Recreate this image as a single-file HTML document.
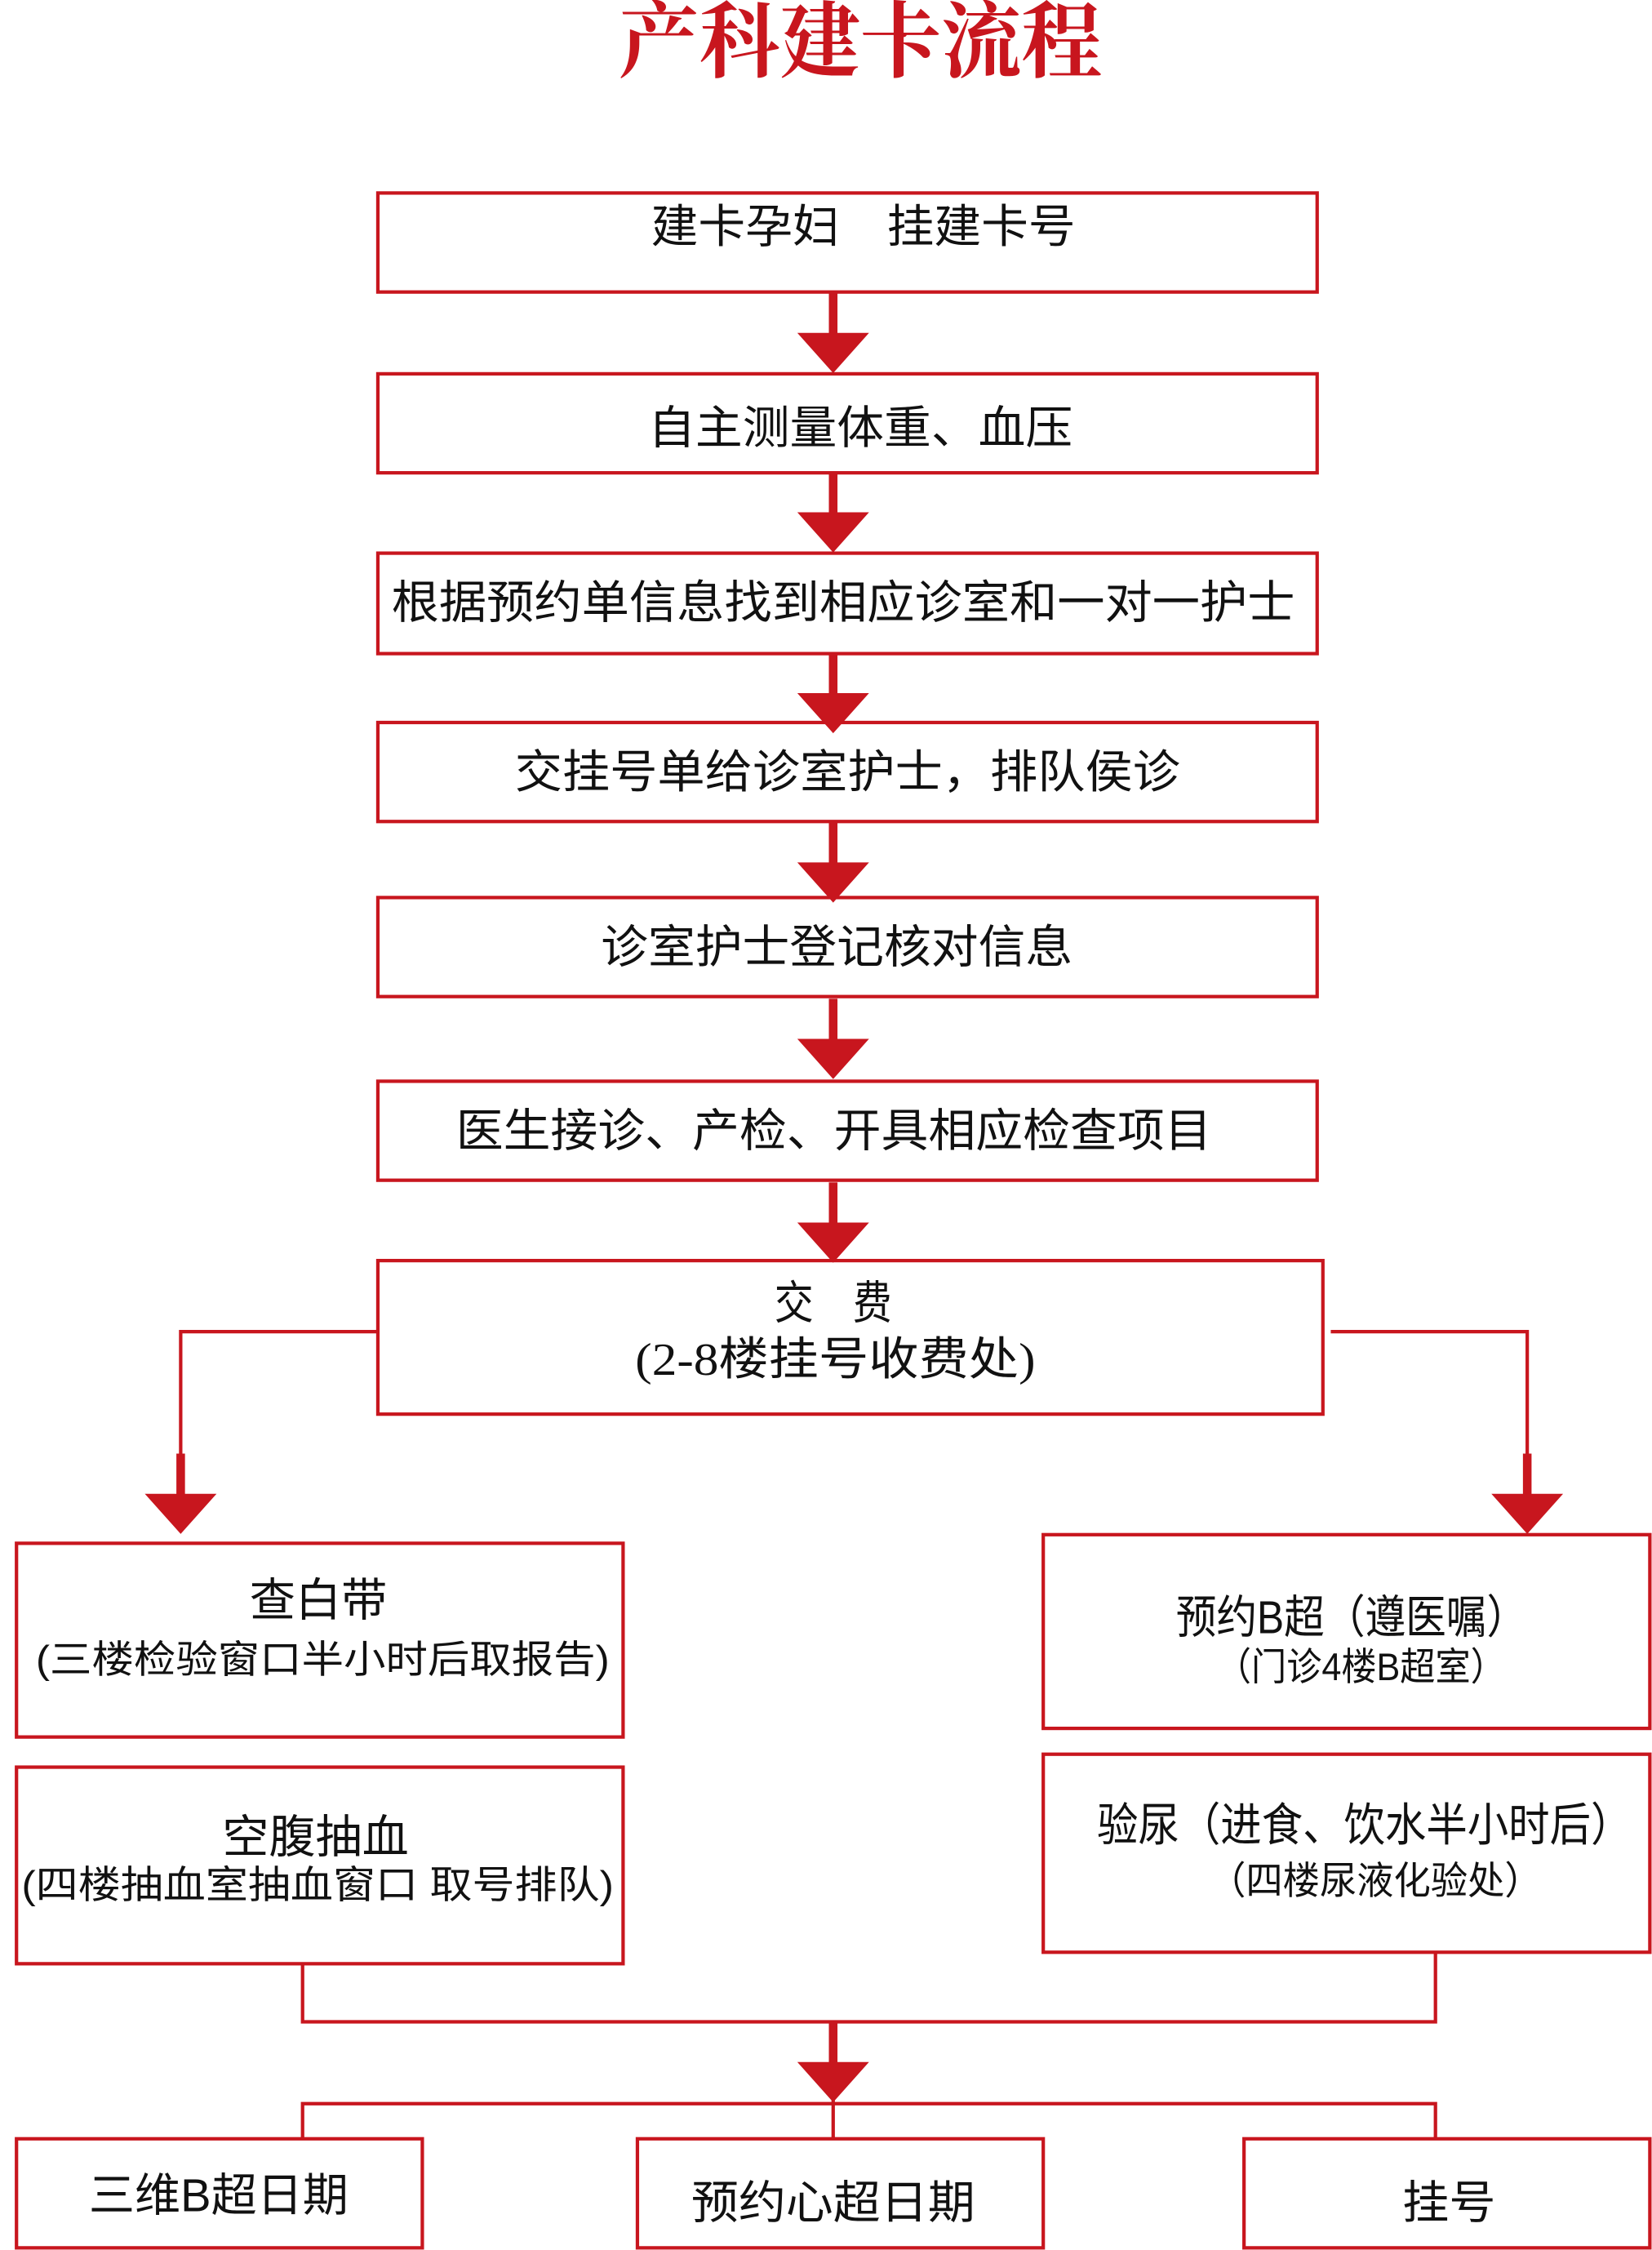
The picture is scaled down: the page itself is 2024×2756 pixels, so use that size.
<!DOCTYPE html>
<html><head><meta charset="utf-8"><style>
html,body{margin:0;padding:0;background:#fff;}
svg{display:block;}
text{font-family:"Liberation Sans","Noto Sans CJK SC",sans-serif;fill:#111;dominant-baseline:central;}
.t{font-size:32px;}
.s{font-size:27px;}
</style></head><body>
<svg width="2024" height="2756" viewBox="0 0 1152 1568" preserveAspectRatio="none" xmlns="http://www.w3.org/2000/svg">
<g fill="none" stroke="#c8161e" stroke-width="2.4">
<rect x="263.5" y="134.5" width="655" height="69"/>
<rect x="263.5" y="260.5" width="655" height="69"/>
<rect x="263.5" y="385.5" width="655" height="70"/>
<rect x="263.5" y="503.5" width="655" height="69"/>
<rect x="263.5" y="625.5" width="655" height="69"/>
<rect x="263.5" y="753.5" width="655" height="69"/>
<rect x="263.5" y="878.5" width="659" height="107"/>
<rect x="11.5" y="1075.5" width="423" height="135"/>
<rect x="11.5" y="1231.5" width="423" height="137"/>
<rect x="727.5" y="1069.5" width="423" height="135"/>
<rect x="727.5" y="1222.5" width="423" height="138"/>
<rect x="11.5" y="1490.5" width="283" height="76"/>
<rect x="444.5" y="1490.5" width="283" height="76"/>
<rect x="867.5" y="1490.5" width="283" height="76"/>
<polyline points="263,928 126,928 126,1020"/>
<polyline points="928,928 1065,928 1065,1020"/>
<polyline points="211,1368 211,1409 1001,1409 1001,1360"/>
<polyline points="211,1490 211,1466 1001,1466 1001,1490"/>
<line x1="581" y1="1440" x2="581" y2="1490"/>
</g>
<g fill="#c8161e">
<g id="a"><rect x="578" y="204" width="6" height="30"/><polygon points="556,232 606,232 581,260"/></g>
<use href="#a" y="125"/>
<use href="#a" y="251"/>
<use href="#a" y="369"/>
<use href="#a" y="492"/>
<use href="#a" y="620"/>
<rect x="123" y="1013" width="6" height="30"/><polygon points="101,1041 151,1041 126,1069"/>
<rect x="1062" y="1013" width="6" height="30"/><polygon points="1040,1041 1090,1041 1065,1069"/>
<rect x="578" y="1409" width="6" height="30"/><polygon points="556,1437 606,1437 581,1465"/>
</g>
<text x="600" y="30" text-anchor="middle" style="font-family:'Liberation Serif','Noto Serif CJK SC',serif;font-weight:bold;font-size:58px;fill:#c8161e" textLength="337" lengthAdjust="spacingAndGlyphs">产科建卡流程</text>
<text class="t" x="454" y="158" textLength="296" lengthAdjust="spacingAndGlyphs">建卡孕妇　挂建卡号</text>
<text class="t" x="452" y="298" textLength="296" lengthAdjust="spacingAndGlyphs">自主测量体重、血压</text>
<text class="t" x="273" y="420" textLength="630" lengthAdjust="spacingAndGlyphs">根据预约单信息找到相应诊室和一对一护士</text>
<text class="t" x="359" y="538" textLength="464" lengthAdjust="spacingAndGlyphs">交挂号单给诊室护士，排队侯诊</text>
<text class="t" x="419" y="660" textLength="329" lengthAdjust="spacingAndGlyphs">诊室护士登记核对信息</text>
<text class="t" x="318" y="788" textLength="527" lengthAdjust="spacingAndGlyphs">医生接诊、产检、开具相应检查项目</text>
<text class="t" x="540" y="908" textLength="82" lengthAdjust="spacingAndGlyphs">交　费</text>
<text class="t" x="443" y="948" textLength="279" lengthAdjust="spacingAndGlyphs" style="font-family:'Liberation Serif','Noto Sans CJK SC',serif">(2-8楼挂号收费处)</text>
<text class="t" x="174" y="1115" textLength="96" lengthAdjust="spacingAndGlyphs">查白带</text>
<text class="s" x="25" y="1157" textLength="400" lengthAdjust="spacingAndGlyphs">(三楼检验窗口半小时后取报告)</text>
<text class="t" x="155" y="1280" textLength="130" lengthAdjust="spacingAndGlyphs">空腹抽血</text>
<text class="s" x="15" y="1314" textLength="413" lengthAdjust="spacingAndGlyphs">(四楼抽血室抽血窗口 取号排队)</text>
<text class="t" x="820" y="1127" textLength="245" lengthAdjust="spacingAndGlyphs">预约B超（遵医嘱）</text>
<text class="s" x="848" y="1162" textLength="202" lengthAdjust="spacingAndGlyphs">（门诊4楼B超室）</text>
<text class="t" x="765" y="1272" textLength="373" lengthAdjust="spacingAndGlyphs">验尿（进食、饮水半小时后）</text>
<text class="s" x="843" y="1311" textLength="232" lengthAdjust="spacingAndGlyphs">（四楼尿液化验处）</text>
<text class="t" x="62" y="1530" textLength="181" lengthAdjust="spacingAndGlyphs">三维B超日期</text>
<text class="t" x="482" y="1535" textLength="198" lengthAdjust="spacingAndGlyphs">预约心超日期</text>
<text class="t" x="978" y="1535" textLength="65" lengthAdjust="spacingAndGlyphs">挂号</text>
</svg>
</body></html>
